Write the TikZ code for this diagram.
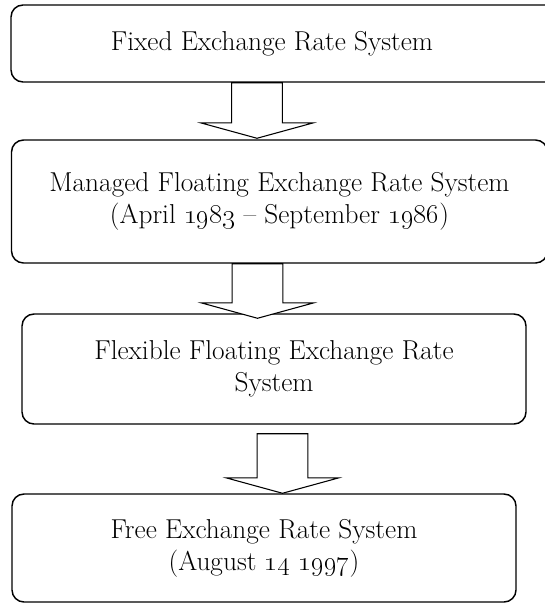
\documentclass[tikz,border=0pt]{standalone}
\usetikzlibrary{positioning,calc}

% block arrow from the top of its shaft to its tip
\newcommand{\blockarrow}[2]{%
\draw[flowarrow] let \p1=(#1), \p2=(#2) in
  (\x1-19pt,\y1) -- (\x1+19pt,\y1) -- (\x1+19pt,\y2+11.5pt) -- (\x1+42pt,\y2+11.5pt)
  -- (\x2,\y2) -- (\x1-42pt,\y2+11.5pt) -- (\x1-19pt,\y2+11.5pt) -- cycle;}

\begin{document}
\begin{tikzpicture}[x=0.75pt,y=-0.75pt,
  stagebox/.style={draw,line width=1.1pt,rounded corners=9pt,align=center,
    font=\fontsize{20.5}{24}\selectfont,inner sep=0pt},
  flowarrow/.style={draw,fill=white,line width=0.8pt,line join=miter}]
\useasboundingbox (0,0) rectangle (544,603);

\node[stagebox,minimum width=415.5pt,minimum height=57.75pt] (b1) at (288,43.5) {Fixed Exchange Rate System\hspace*{24pt}};
\node[stagebox,minimum width=402pt,minimum height=92.25pt] (b2) at (279.5,201.5) {Managed Floating Exchange Rate System\\(April \oldstylenums{1983} -- September \oldstylenums{1986})};
\node[stagebox,minimum width=378pt,minimum height=82.5pt] (b3) at (274,369) {Flexible Floating Exchange Rate\\System};
\node[stagebox,minimum width=378pt,minimum height=81pt] (b4) at (264,548) {Free Exchange Rate System\\(August \oldstylenums{14} \oldstylenums{1997})};

\coordinate (a1top) at (257,0 |- b1.south);
\coordinate (a1tip) at ($(257,0 |- b2.north)+(0,-1)$);
\coordinate (a2top) at (257.5,0 |- b2.south);
\coordinate (a2tip) at ($(257.5,0 |- b3.north)+(0,5)$);
\coordinate (a3top) at ($(282.5,0 |- b3.south)+(0,9)$);
\coordinate (a3tip) at (282.5,0 |- b4.north);

\blockarrow{a1top}{a1tip}
\blockarrow{a2top}{a2tip}
\blockarrow{a3top}{a3tip}

\end{tikzpicture}
\end{document}
